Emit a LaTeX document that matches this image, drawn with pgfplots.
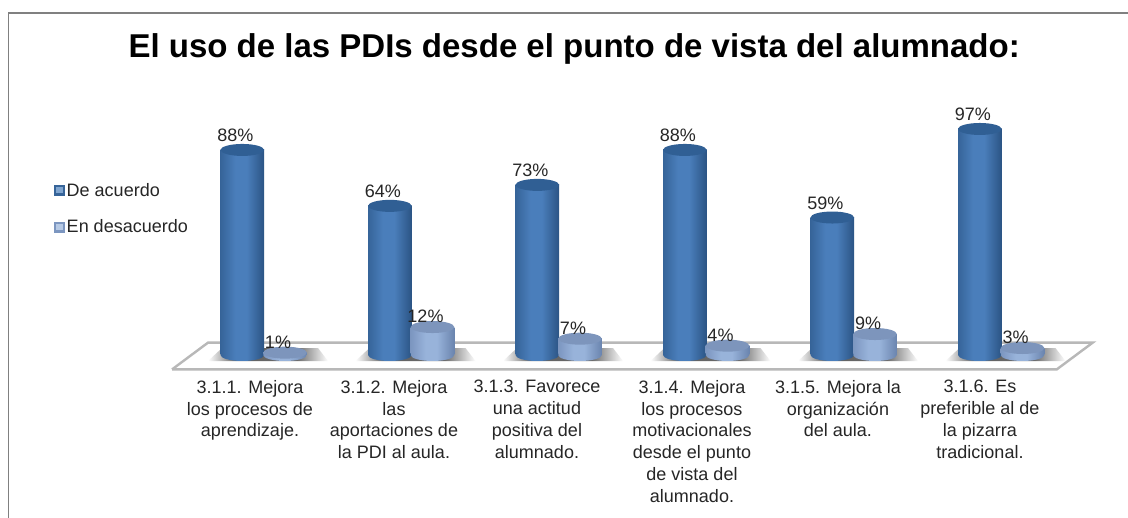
\documentclass[border=0pt]{standalone}
\usepackage{pgfplots}
\pgfplotsset{compat=1.18}
\usepackage{fontspec}
\setmainfont{Liberation Sans}
\definecolor{txt}{HTML}{262626}
\definecolor{bmid}{HTML}{4A7EBB}
\definecolor{bleft}{HTML}{366499}
\definecolor{bright}{HTML}{2B5484}
\definecolor{bcap}{HTML}{305F94}
\definecolor{lmid}{HTML}{98B3DA}
\definecolor{lleft}{HTML}{7C96C0}
\definecolor{lright}{HTML}{6A84AE}
\definecolor{lcap}{HTML}{7D95BC}
\pgfdeclarehorizontalshading{bluebody}{100bp}{color(0bp)=(bleft); color(25bp)=(bleft); color(42bp)=(bmid); color(55bp)=(bmid); color(75bp)=(bright); color(100bp)=(bright)}
\pgfdeclarehorizontalshading{lightbody}{100bp}{color(0bp)=(lleft); color(25bp)=(lleft); color(42bp)=(lmid); color(55bp)=(lmid); color(75bp)=(lright); color(100bp)=(lright)}
\pgfdeclarehorizontalshading{floorshadow}{100bp}{color(0bp)=(white); color(25bp)=(white); color(37bp)=(black!62); color(62bp)=(black!58); color(75bp)=(white); color(100bp)=(white)}
\pgfdeclareplotmark{bluecap}{\path[draw=none,fill=bcap] (0pt,0pt) ellipse [x radius=21.8pt,y radius=6pt];}
\pgfdeclareplotmark{lightcap}{\path[draw=none,fill=lcap] (0pt,0pt) ellipse [x radius=21.8pt,y radius=6pt];}
\pgfdeclareplotmark{bluefoot}{\path[draw=none,shading=bluebody] (0pt,0pt) ellipse [x radius=21.8pt,y radius=6pt];}
\pgfdeclareplotmark{lightfoot}{\path[draw=none,shading=lightbody] (0pt,0pt) ellipse [x radius=21.8pt,y radius=6pt];}
\pgfplotsset{
  bluebar/.style={ybar,draw=none,shading=bluebody,forget plot},
  lightbar/.style={ybar,draw=none,shading=lightbody,forget plot},
  floorshade/.style={forget plot,draw=none,shading=floorshadow},
  pct/.style={forget plot,only marks,point meta=y,nodes near coords={\pgfmathprintnumber[assume math mode=true,precision=0]{\pgfplotspointmeta}\%},
  every node near coord/.style={anchor=south,xshift=-7pt,yshift=#1,inner sep=0pt,font=\fontsize{18}{21}\selectfont,text=txt}},
}
\begin{document}
\begin{tikzpicture}[x=1pt,y=1pt]
\path[use as bounding box,fill=white] (0,0) rectangle (1128,518);
\draw[color=black!50,line width=1.2pt] (8.5,0) -- (8.5,505) -- (1128,505);
\begin{axis}[
  at={(0pt,146pt)},anchor=south west,
  scale only axis,width=1128pt,height=372pt,
  xmin=0,xmax=1128,ymin=-7.296,ymax=152.36,
  clip=false,
  axis line style={draw=none},
  ytick=\empty,
  xtick={250,394,537,692,838,980},
  xticklabels={{3.1.1. Mejora\\los procesos de\\aprendizaje.},{3.1.2. Mejora\\las\\aportaciones de\\la PDI al aula.},{3.1.3. Favorece\\una actitud\\positiva del\\alumnado.},{3.1.4. Mejora\\los procesos\\motivacionales\\desde el punto\\de vista del\\alumnado.},{3.1.5. Mejora la\\organización\\del aula.},{3.1.6. Es\\preferible al de\\la pizarra\\tradicional.}},
  major tick length=0pt,
  xticklabel style={align=center,font=\fontsize{18}{21.8}\selectfont,text=txt,anchor=north,inner sep=0pt,yshift=-8pt},
  title={\textbf{El uso de las PDIs desde el punto de vista del alumnado:}},
  title style={at={(0.509,0.828)},anchor=base,font=\fontsize{33}{40}\selectfont,text=black},
  legend style={at={(0.048,0.513)},anchor=north west,draw=none,fill=none,font=\fontsize{18}{21}\selectfont,text=txt,row sep=18pt,inner sep=0pt,/tikz/every even column/.style={column sep=3pt}},
  legend cell align=left,
  bar width=43.6pt,bar shift=0pt,
]
% floor
\addplot[forget plot,color=black!28,line width=2.4pt,fill=white,line join=miter] coordinates {(172,-6.2) (208,5.3) (1092.7,5.3) (1056.7,-6.2) (172,-6.2)};
% shadows on the floor
\addplot[floorshade] coordinates {(208,-2.6) (328,-2.6) (318,3) (222,3) (208,-2.6)};
\addplot[floorshade] coordinates {(355.5,-2.6) (475.5,-2.6) (465.5,3) (369.5,3) (355.5,-2.6)};
\addplot[floorshade] coordinates {(503,-2.6) (623,-2.6) (613,3) (517,3) (503,-2.6)};
\addplot[floorshade] coordinates {(650.5,-2.6) (770.5,-2.6) (760.5,3) (664.5,3) (650.5,-2.6)};
\addplot[floorshade] coordinates {(798,-2.6) (918,-2.6) (908,3) (812,3) (798,-2.6)};
\addplot[floorshade] coordinates {(945.5,-2.6) (1065.5,-2.6) (1055.5,3) (959.5,3) (945.5,-2.6)};
% legend
\addlegendimage{legend image code/.code={\fill[bleft] (0pt,-5pt) rectangle (10pt,5pt);\fill[bmid!70!white] (2pt,-2pt) rectangle (8pt,3pt);}}
\addlegendentry{De acuerdo}
\addlegendimage{legend image code/.code={\fill[lleft] (0pt,-5pt) rectangle (10pt,5pt);\fill[lmid!70!white] (2pt,-2pt) rectangle (8pt,3pt);}}
\addlegendentry{En desacuerdo}
% De acuerdo
\addplot[forget plot,only marks,mark=bluefoot] coordinates {(242.3,0) (389.8,0) (537.3,0) (684.8,0) (832.3,0) (979.8,0)};
\addplot[bluebar] coordinates {(242.3,88)};
\addplot[bluebar] coordinates {(389.8,64)};
\addplot[bluebar] coordinates {(537.3,73)};
\addplot[bluebar] coordinates {(684.8,88)};
\addplot[bluebar] coordinates {(832.3,59)};
\addplot[bluebar] coordinates {(979.8,97)};
\addplot[pct=8pt,mark=bluecap] coordinates {(242.3,88) (389.8,64) (537.3,73) (684.8,88) (832.3,59) (979.8,97)};
% En desacuerdo
\addplot[forget plot,only marks,mark=lightfoot] coordinates {(285,0) (432.5,0) (580,0) (727.5,0) (875,0) (1022.5,0)};
\addplot[lightbar] coordinates {(285,1)};
\addplot[lightbar] coordinates {(432.5,12)};
\addplot[lightbar] coordinates {(580,7)};
\addplot[lightbar] coordinates {(727.5,4)};
\addplot[lightbar] coordinates {(875,9)};
\addplot[lightbar] coordinates {(1022.5,3)};
\addplot[pct=4pt,mark=lightcap] coordinates {(285,1) (432.5,12) (580,7) (727.5,4) (875,9) (1022.5,3)};
\end{axis}
\end{tikzpicture}
\end{document}
